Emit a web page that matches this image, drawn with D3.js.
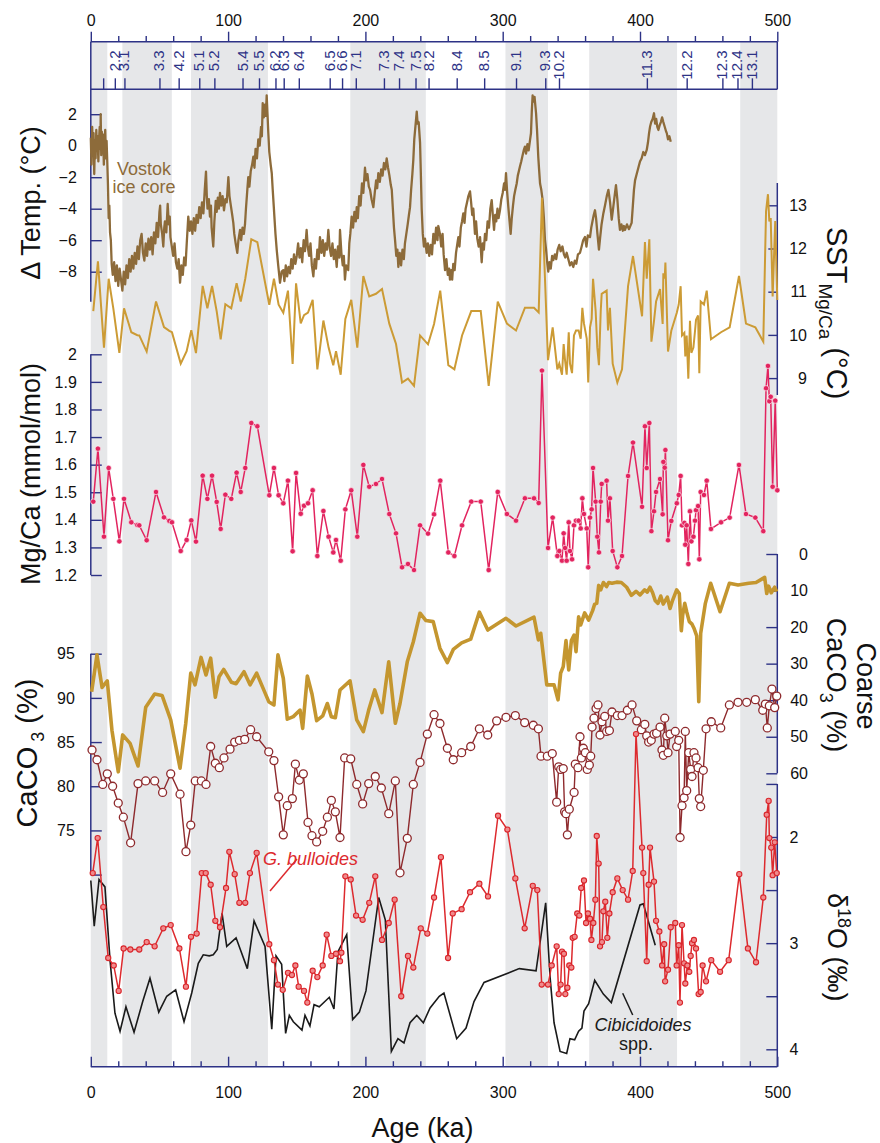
<!DOCTYPE html>
<html>
<head>
<meta charset="utf-8">
<script src="https://cdn.jsdelivr.net/npm/d3@7"></script>
<style>
  body { margin: 0; background: #fff; }
  svg { display: block; }
  text { font-family: "Liberation Sans", Arial, Helvetica, sans-serif; }
</style>
</head>
<body>
<svg id="chart" width="880" height="1143"></svg>
<script>
// ---------------- data ----------------
const ageLabels = [0, 100, 200, 300, 400, 500];
const ageMinor = [20, 40, 60, 80, 120, 140, 160, 180, 220, 240, 260, 280, 320, 340, 360, 380, 420, 440, 460, 480];

// glacial stages (ka)
const glacialStages = [[0, 12], [23, 59], [73, 129], [189, 244], [302, 333], [363, 427], [473, 500]];

// marine isotope substages
const misAges = [9, 17.5, 24.5, 50, 64, 79, 90, 110.5, 122.5, 134.5, 140.5, 151.5, 174, 183, 193, 213.5, 224.5, 236.5, 246, 266.5, 286.5, 309.7, 331, 341, 405, 434, 460, 471, 481.5];
const misLabels = ["", "2.2", "3.1", "3.3", "4.2", "5.1", "5.2", "5.4", "5.5", "6.2", "6.3", "6.4", "6.5", "6.6", "7.1", "7.3", "7.4", "7.5", "8.2", "8.4", "8.5", "9.1", "9.3", "10.2", "11.3", "12.2", "12.3", "12.4", "13.1"];

// Vostok ice core temperature anomaly [age ka, deg C]
const vostok = [[0,0.5],[0.5,-1.2],[1,1.2],[1.5,-0.5],[2,0.8],[2.5,-1.8],[3,0.3],[3.5,-0.8],[4,1.0],[4.5,-0.3],[5,0.6],[5.5,-1.0],[6,0.4],[6.5,1.2],[7,-0.2],[7.2,2.0],[7.6,-0.6],[8,0.9],[8.5,-0.4],[9,0.7],[9.5,-1.2],[10,0.2],[10.5,1.0],[11,-0.8],[11.5,0.3],[12,-1.0],
[12.5,-2.5],[13,-4.6],[13.5,-3.8],[14,-5.5],[14.6,-6.0],[15.2,-7.5],[16,-8.2],[17,-7.4],[18,-8.6],[19,-7.6],[20,-8.9],[21,-7.8],[22,-8.5],[23,-9.2],[24,-8.0],[25,-8.8],[26,-7.6],[27,-8.4],[28,-7.2],[29,-8.0],[30,-7.0],[31,-7.8],[32,-6.8],[33,-7.5],[34,-6.4],[35,-7.2],[36,-6.0],[37,-5.6],[38,-6.8],[39,-7.3],[40,-6.2],[41,-7.0],[42,-5.9],[43,-6.6],[44,-5.8],[45,-6.9],[46,-5.5],[47,-6.2],[48,-4.9],[49,-5.8],[50,-4.2],[50.5,-3.8],[51,-5.0],[52,-5.6],[52.8,-6.4],[53.5,-5.2],[54,-4.8],[55,-5.5],[56,-3.7],[56.8,-5.0],[57.5,-4.5],[58,-5.8],[59,-6.4],[60,-7.0],[61,-6.2],[62,-7.4],[63,-7.8],[64,-7.2],[65,-8.7],[66,-7.6],[67,-8.2],[68,-7.1],[69,-7.6],[70,-6.0],[71,-4.5],[72,-5.4],[73,-4.8],[74,-5.6],[75,-4.6],[76,-5.4],[77,-4.4],[78,-4.9],[79,-3.9],[80,-4.6],[81,-3.6],[82,-4.3],[83,-2.8],[83.9,-1.65],[84.5,-3.2],[85,-4.0],[86,-3.4],[86.8,-4.5],[87.5,-3.8],[88,-5.2],[89.2,-6.4],[90,-4.8],[91,-3.5],[91.7,-4.2],[92.5,-3.3],[93.3,-4.0],[94.1,-3.0],[95,-3.8],[96,-3.2],[97,-4.1],[98,-3.4],[99,-3.6],[100.2,-2.0],[101,-3.2],[102,-3.8],[103,-4.4],[103.8,-4.9],[104.5,-5.6],[105.5,-6.2],[106.7,-6.8],[107.5,-6.0],[108.7,-5.35],[109.5,-6.0],[110.5,-5.2],[111.5,-5.6],[112.3,-5.0],[113,-4.0],[114,-2.8],[114.7,-2.0],[115.5,-2.6],[116.5,-1.6],[117.5,-1.2],[118.4,-0.7],[119.2,-1.4],[120,-0.2],[121,-0.8],[122,0.4],[123,0.0],[124,1.2],[124.6,0.6],[125.2,2.7],[126,1.8],[126.8,2.6],[127.5,1.9],[128.1,3.2],[128.7,2.0],[129.3,0.8],[130,-0.4],[131,-1.2],[131.8,-1.75],[132.5,-2.8],[133.5,-4.2],[134.5,-5.6],[135.4,-6.6],[136.5,-7.6],[137.8,-8.7],[139,-8.0],[140.2,-7.9],[141,-8.6],[142,-7.6],[143,-8.3],[144,-7.7],[145.1,-8.1],[146,-7.2],[147,-7.8],[148,-6.9],[149,-7.5],[150,-7.0],[151,-6.2],[152,-7.1],[153,-6.5],[154,-7.4],[155,-6.0],[156,-6.7],[157.2,-5.35],[158,-6.4],[159,-7.0],[160,-6.2],[161,-7.6],[162.1,-8.3],[163,-7.2],[164,-7.8],[165,-6.6],[166,-7.2],[166.9,-5.8],[168,-6.8],[169,-6.0],[170,-7.0],[171,-6.2],[172,-6.6],[173,-5.35],[174,-6.5],[175,-7.0],[176,-6.2],[177,-7.2],[178,-6.6],[179.1,-7.7],[180,-6.4],[181,-7.1],[181.5,-5.35],[182.5,-6.8],[183.5,-7.6],[184.3,-7.0],[185.1,-8.5],[186,-7.6],[187.5,-7.9],[188.3,-6.2],[189,-5.6],[190,-4.5],[191,-5.2],[192,-4.2],[193,-4.8],[193.7,-3.9],[194.5,-4.6],[195.5,-3.2],[196.5,-3.8],[197.5,-2.4],[198.5,-3.0],[199.7,-1.4],[200.5,-2.2],[201.5,-1.8],[202.5,-2.6],[203.4,-2.8],[204.5,-3.4],[205.8,-3.9],[206.8,-3.0],[207.8,-2.2],[208.6,-2.7],[209.4,-1.75],[210.5,-2.3],[211.5,-1.5],[212.5,-1.9],[213.5,-1.1],[214.5,-1.5],[215.5,-0.8],[216.5,-1.4],[217.5,-1.9],[218.5,-2.5],[219.2,-2.8],[220,-4.0],[220.8,-5.2],[221.6,-6.0],[222.5,-7.0],[223.3,-6.6],[224,-7.7],[225,-6.8],[226,-7.6],[227,-6.6],[228,-7.2],[228.8,-6.2],[229.8,-5.6],[230.8,-5.0],[231.7,-4.4],[232.5,-3.9],[233.3,-2.8],[234.2,-1.8],[234.9,-0.9],[235.6,0.4],[236.4,1.2],[237.4,2.16],[238,1.4],[238.8,1.5],[239.8,0.2],[240.3,-1.5],[241,-4.0],[241.8,-5.6],[242.6,-6.4],[243.4,-5.9],[244.6,-6.8],[245.5,-6.2],[246.5,-7.0],[247.5,-6.3],[248.5,-6.9],[249.5,-5.6],[250.5,-6.2],[251.5,-5.2],[252.5,-6.0],[253.1,-5.1],[254.3,-5.6],[255.2,-6.4],[256.2,-5.6],[257,-6.9],[258,-7.9],[259,-7.2],[260,-8.2],[261,-7.8],[261.6,-8.5],[262.5,-7.9],[263.2,-8.5],[264,-7.5],[265,-7.9],[266,-6.8],[267,-6.2],[267.7,-5.8],[268.5,-6.4],[269.5,-5.2],[270.4,-4.8],[271.3,-4.3],[272.2,-4.9],[273,-4.0],[274,-3.6],[275,-3.2],[276.2,-2.9],[277,-3.6],[277.8,-4.4],[278.6,-4.0],[279.8,-5.6],[280.6,-4.8],[281.5,-5.9],[282.5,-6.4],[283.5,-5.8],[284.7,-7.4],[285.5,-6.2],[286.3,-6.6],[287.1,-5.6],[288,-6.0],[289,-4.8],[290,-5.2],[291,-4.0],[292,-3.45],[292.8,-4.4],[293.7,-5.35],[294.5,-4.4],[295.3,-4.8],[296.2,-4.0],[297,-4.6],[298,-4.1],[299,-3.4],[300,-3.0],[301,-2.4],[301.7,-2.8],[302.4,-1.75],[303.2,-2.9],[304.1,-3.9],[305,-4.8],[305.8,-5.6],[306.6,-4.6],[307.5,-3.8],[308.3,-3.2],[309.2,-2.8],[310.2,-2.4],[311,-1.9],[311.8,-1.6],[312.6,-1.3],[313.5,-1.0],[314.5,-0.6],[315.3,-0.3],[316.2,-0.06],[317,-0.5],[318,0.1],[318.9,-0.3],[319.9,0.36],[320.6,0.8],[321.2,2.2],[321.8,3.2],[322.5,2.8],[323.2,3.1],[324.3,2.06],[325,1.0],[325.9,-0.7],[326.5,-1.5],[327.2,-2.4],[328.1,-2.8],[329.1,-3.45],[330,-4.6],[330.8,-6.0],[331.6,-6.6],[332.4,-7.4],[333.2,-8.0],[334,-7.4],[335,-7.8],[336,-7.0],[336.9,-7.26],[338,-6.9],[339,-7.2],[340,-6.6],[341.2,-6.3],[342.2,-6.7],[343.5,-6.4],[344.6,-6.9],[345.6,-7.1],[346.6,-6.8],[347.8,-7.2],[349,-7.6],[350.2,-7.4],[351.4,-7.7],[352.5,-7.3],[353.6,-7.5],[354.8,-6.9],[356.3,-6.8],[357.5,-6.4],[358.6,-6.0],[359.9,-5.8],[361,-6.4],[362,-5.7],[363.6,-5.8],[364.5,-5.2],[365.4,-4.8],[366.3,-4.4],[367.2,-4.1],[368,-4.6],[369,-5.6],[370.1,-6.6],[371,-5.8],[372,-5.0],[373.3,-4.3],[374.5,-3.8],[375.8,-3.2],[377,-2.8],[378.2,-3.6],[379.4,-4.7],[380.4,-4.0],[381.5,-3.2],[382.5,-2.5],[383.5,-3.4],[384.5,-4.6],[385.4,-5.35],[386.5,-5.0],[387.5,-5.4],[388.3,-5.1],[389.1,-5.35],[390.5,-5.0],[392,-5.3],[393.9,-4.9],[394.8,-3.8],[395.6,-2.8],[396.4,-2.2],[397.6,-1.8],[398.8,-1.4],[400,-1.0],[401.2,-0.8],[402.4,-0.4],[403.6,-0.6],[404.9,-0.27],[405.8,0.2],[406.6,0.8],[407.3,1.2],[408.2,1.5],[409.2,1.7],[410.2,2.06],[411,1.4],[411.8,1.7],[412.6,1.2],[413.4,1.0],[414.3,1.3],[415.2,1.5],[416.1,1.8],[417,1.5],[418,1.2],[419,0.9],[419.5,0.8],[420.4,0.4],[421.4,0.6],[422.4,0.25]];

// G. bulloides Mg/Ca [age ka, mmol/mol]
const mgca = [[1.8,1.466],[5.2,1.658],[9.6,1.339],[13.0,1.588],[16.4,1.476],[20.8,1.322],[24.2,1.476],[29.5,1.391],[33.9,1.381],[35.3,1.380],[40.7,1.326],[47.5,1.501],[53.3,1.409],[57.2,1.396],[59.1,1.391],[65.5,1.287],[69.8,1.327],[73.2,1.398],[76.6,1.321],[81.5,1.560],[84.9,1.476],[88.3,1.560],[91.7,1.465],[94.6,1.367],[98.0,1.491],[102.3,1.476],[106.2,1.571],[109.2,1.501],[112.5,1.588],[116.9,1.751],[121.3,1.739],[130.0,1.489],[133.4,1.588],[136.8,1.489],[140.2,1.460],[143.6,1.542],[147.0,1.286],[149.5,1.570],[152.9,1.422],[155.3,1.451],[158.2,1.460],[161.6,1.507],[165.0,1.269],[169.4,1.432],[173.2,1.339],[176.6,1.282],[178.6,1.327],[182.0,1.252],[185.4,1.438],[189.7,1.507],[194.1,1.339],[198.5,1.599],[202.8,1.520],[207.7,1.530],[212.1,1.548],[217.4,1.421],[222.3,1.351],[226.7,1.228],[231.0,1.240],[235.4,1.218],[239.8,1.380],[245.6,1.350],[250.0,1.420],[254.5,1.542],[260.4,1.282],[264.8,1.269],[270.4,1.380],[277.1,1.466],[284.0,1.466],[289.8,1.218],[296.4,1.501],[303.1,1.421],[309.7,1.397],[316.2,1.478],[322.8,1.478],[326.2,1.461],[328.6,1.941],[333.0,1.298],[336.4,1.408],[339.8,1.269],[341.2,1.287],[343.2,1.252],[344.4,1.351],[345.4,1.298],[346.6,1.252],[348.1,1.391],[349.0,1.287],[350.5,1.257],[351.9,1.380],[353.4,1.397],[355.3,1.397],[356.8,1.369],[358.0,1.478],[359.2,1.421],[361.2,1.369],[362.3,1.228],[363.6,1.408],[364.8,1.438],[365.8,1.588],[367.7,1.466],[368.9,1.339],[370.1,1.282],[371.4,1.466],[372.1,1.530],[375.7,1.542],[376.7,1.397],[378.1,1.478],[380.1,1.287],[383.5,1.228],[386.9,1.269],[391.3,1.559],[394.9,1.680],[401.5,1.447],[403.6,1.739],[404.9,1.588],[406.8,1.751],[408.3,1.359],[410.2,1.431],[411.7,1.501],[414.6,1.548],[416.5,1.420],[417.0,1.610],[418.0,1.589],[418.5,1.653],[420.4,1.326],[422.8,1.396],[426.8,1.460],[428.2,1.490],[429.6,1.559],[430.6,1.380],[432.3,1.389],[433.0,1.310],[434.0,1.380],[435.2,1.240],[436.4,1.431],[437.4,1.322],[438.9,1.339],[440.1,1.397],[440.8,1.435],[442.3,1.450],[443.2,1.257],[444.2,1.501],[446.6,1.490],[448.6,1.542],[451.7,1.367],[459.0,1.391],[465.3,1.408],[472.1,1.599],[477.2,1.421],[484.0,1.408],[489.8,1.359],[491.8,1.877],[493.2,1.958],[494.2,1.830],[495.2,1.846],[496.6,1.520],[498.5,1.832],[500.0,1.507]];

// Mg/Ca-temperature calibration for G. bulloides: Mg/Ca = 0.474 exp(0.107 T)
const calibA = 0.474, calibB = 0.107;

// coarse-fraction CaCO3 (%)
const coarse = [[0.6,37.7],[4.5,27.6],[8.2,36.5],[12.0,34.7],[15.4,48.2],[20.0,59.6],[23.2,49.5],[28.6,51.8],[34.4,58.0],[40.0,41.9],[46.5,38.3],[51.9,38.7],[58.2,45.4],[65.0,58.6],[69.1,46.5],[72.8,32.6],[75.9,35.8],[80.3,28.3],[83.9,33.1],[87.3,28.5],[90.7,39.2],[93.4,33.6],[96.8,31.6],[102.4,35.1],[105.8,35.5],[111.6,32.2],[116.0,35.8],[120.8,32.6],[129.6,40.4],[133.4,41.3],[136.3,27.6],[140.2,34.0],[143.1,45.2],[147.5,44.5],[152.4,42.7],[154.3,47.7],[157.7,33.4],[161.1,38.3],[164.5,45.6],[168.9,44.3],[172.3,40.9],[175.2,44.5],[178.1,44.8],[181.5,37.2],[188.8,34.7],[193.7,45.4],[198.5,48.6],[202.4,42.7],[206.8,37.2],[212.1,43.4],[217.0,29.5],[221.8,46.3],[225.2,40.9],[230.5,29.5],[234.9,24.0],[239.8,16.2],[244.1,18.2],[249.4,18.5],[254.3,25.8],[259.7,29.7],[264.0,26.1],[270.1,24.3],[276.7,23.3],[283.0,15.9],[289.1,20.8],[302.4,17.6],[309.7,19.7],[322.8,17.3],[326.0,23.5],[327.7,21.7],[332.1,35.8],[337.4,35.8],[340.3,39.9],[342.2,32.6],[344.1,30.8],[346.1,23.7],[348.1,31.7],[350.0,23.7],[352.0,22.2],[353.4,26.7],[355.3,17.2],[356.8,19.4],[359.7,16.1],[362.6,18.1],[365.5,15.5],[367.0,13.7],[368.5,13.5],[369.9,8.6],[371.4,9.8],[373.3,7.8],[375.7,8.9],[377.2,7.8],[379.6,8.0],[383.0,7.7],[386.4,7.8],[390.3,9.1],[393.7,11.3],[397.1,10.2],[400.0,11.2],[403.4,9.8],[405.3,10.4],[407.3,9.1],[409.2,10.6],[411.1,12.8],[413.1,13.5],[415.1,11.5],[416.9,13.7],[419.9,11.8],[421.9,14.9],[423.8,12.6],[426.7,9.8],[428.6,10.8],[430.1,21.0],[431.1,16.7],[432.6,13.5],[434.0,15.8],[435.9,18.5],[437.9,19.2],[439.3,20.3],[441.3,22.4],[442.8,40.4],[444.2,21.7],[447.6,13.5],[451.5,8.0],[458.3,15.8],[465.1,8.0],[471.4,8.5],[479.2,8.0],[484.5,7.8],[490.8,6.4],[492.3,10.8],[493.7,8.8],[495.6,10.6],[498.1,9.1],[499.5,10.3]];

// bulk CaCO3 (%)
const caco3 = [[0.9,84.1],[4.5,83.0],[8.7,80.2],[12.0,81.4],[15.9,80.0],[20.0,78.1],[23.7,76.5],[29.0,73.6],[34.4,80.3],[40.0,80.6],[46.5,80.6],[52.3,79.3],[58.2,81.4],[65.0,79.1],[69.3,72.6],[72.8,75.6],[76.1,80.6],[80.5,80.6],[83.9,80.2],[87.3,84.5],[90.7,82.6],[93.6,82.1],[97.0,83.2],[101.4,84.2],[104.8,85.0],[108.2,85.2],[112.1,85.3],[116.4,86.4],[120.8,85.6],[129.6,83.9],[133.4,82.9],[136.8,78.8],[140.2,74.5],[143.1,77.8],[146.8,78.6],[149.0,82.5],[151.9,80.7],[154.8,81.4],[158.2,75.9],[161.1,74.4],[164.5,73.7],[168.9,74.9],[172.3,76.5],[175.2,78.4],[178.1,77.1],[181.5,74.2],[184.9,83.2],[189.3,83.1],[193.7,80.2],[198.0,78.0],[202.4,80.3],[207.2,81.1],[211.6,79.8],[217.0,76.9],[221.8,80.6],[225.2,70.2],[230.5,74.1],[234.9,80.2],[239.8,82.7],[245.1,85.9],[250.0,88.1],[254.3,87.1],[259.7,84.3],[264.0,83.0],[270.1,83.8],[276.7,84.5],[283.0,86.5],[289.1,85.8],[295.6,87.4],[302.4,87.8],[309.2,88.0],[316.0,87.2],[322.3,86.9],[326.0,86.5],[327.9,83.4],[332.5,83.4],[336.1,83.7],[339.3,78.2],[340.8,82.2],[342.2,81.9],[344.1,82.0],[345.1,77.1],[346.1,76.9],[347.1,74.5],[348.5,77.4],[352.0,79.3],[352.9,82.5],[354.8,82.1],[356.3,85.6],[357.3,83.2],[358.7,84.3],[360.2,83.8],[361.6,81.9],[363.1,82.4],[364.1,83.4],[365.1,86.7],[366.5,87.7],[368.0,88.8],[369.4,89.2],[370.9,85.8],[372.3,87.3],[374.3,87.9],[375.7,86.2],[377.7,86.3],[379.6,88.4],[383.5,88.0],[386.9,88.0],[390.8,88.6],[394.2,89.2],[397.6,87.4],[401.0,86.4],[403.5,87.0],[404.9,85.7],[406.3,85.0],[408.2,85.2],[410.2,85.9],[412.1,86.0],[414.6,86.7],[416.0,84.1],[417.0,83.5],[418.0,87.7],[419.5,85.7],[420.4,83.8],[421.9,85.9],[425.7,86.2],[426.7,84.5],[428.2,85.2],[429.2,74.2],[430.6,77.8],[432.1,78.7],[433.0,86.2],[434.0,79.5],[435.5,83.8],[436.9,81.9],[437.9,81.1],[439.3,83.8],[440.8,83.2],[442.3,82.1],[443.2,78.6],[444.2,77.7],[446.1,81.8],[448.1,86.5],[451.9,87.3],[458.8,86.6],[465.1,89.2],[471.4,89.5],[477.7,89.5],[484.0,89.8],[489.4,88.6],[491.3,89.3],[492.7,86.6],[494.2,89.1],[496.1,91.0],[498.1,88.9],[499.6,90.2]];

// planktonic d18O, G. bulloides (permil)
const bulloides = [[1.4,2.34],[5.0,2.01],[9.1,2.66],[12.7,3.14],[16.7,3.21],[20.3,3.45],[23.9,3.05],[28.8,3.06],[35.3,3.06],[40.7,2.99],[46.5,3.03],[52.8,2.86],[58.2,2.83],[64.5,3.05],[69.3,3.41],[73.0,2.94],[77.1,2.91],[80.8,2.34],[83.7,2.34],[87.3,2.45],[90.7,2.79],[94.1,2.85],[98.5,2.48],[100.9,2.14],[104.8,2.35],[108.2,2.62],[112.5,2.62],[115.9,2.34],[120.8,2.15],[130.0,3.01],[133.4,3.16],[136.3,3.39],[139.8,3.44],[143.6,3.28],[146.5,3.30],[149.0,3.21],[151.4,3.41],[155.3,3.45],[157.7,3.56],[161.6,3.26],[165.0,3.32],[168.9,3.21],[171.8,2.92],[175.2,3.12],[178.6,3.10],[181.5,3.17],[182.5,3.09],[185.4,2.37],[189.3,2.40],[193.2,2.74],[198.0,2.78],[202.8,2.62],[207.2,2.37],[212.1,2.97],[217.0,2.81],[221.3,2.59],[226.1,3.50],[231.0,3.12],[234.9,3.23],[240.3,2.86],[245.1,2.91],[250.0,2.57],[255.0,2.19],[260.2,3.14],[263.6,2.72],[270.1,2.68],[276.2,2.52],[283.0,2.44],[289.3,2.56],[296.6,1.80],[303.4,1.93],[309.2,2.39],[316.0,2.86],[321.9,2.46],[325.2,2.50],[328.4,3.39],[333.0,3.39],[335.7,3.21],[339.3,3.03],[340.8,3.48],[342.2,3.39],[343.2,3.08],[344.6,3.10],[345.6,3.48],[347.1,3.42],[348.5,3.21],[350.0,3.23],[351.0,2.95],[352.4,2.94],[354.3,2.72],[355.8,2.74],[357.2,2.48],[359.2,2.41],[360.7,2.81],[362.1,2.72],[363.6,2.77],[364.6,2.97],[366.0,2.81],[367.5,2.59],[368.5,1.99],[369.9,2.25],[370.9,3.03],[372.3,2.99],[373.3,2.70],[374.7,2.61],[376.2,2.95],[377.7,2.72],[380.1,2.52],[383.5,2.39],[387.4,2.50],[391.3,2.59],[394.7,2.32],[397.1,1.03],[401.5,2.10],[402.4,2.34],[404.9,3.17],[406.3,2.45],[407.3,2.10],[410.2,2.42],[411.7,2.79],[414.1,2.89],[416.1,3.21],[417.6,3.01],[418.3,3.36],[420.4,3.25],[422.4,2.85],[425.7,2.81],[426.7,3.21],[428.2,3.02],[429.1,3.56],[430.6,2.83],[432.1,3.19],[433.0,3.38],[434.5,3.21],[435.9,3.27],[436.9,3.12],[437.9,3.00],[439.3,2.97],[440.8,3.05],[442.7,3.48],[444.2,3.46],[445.6,3.21],[448.1,3.36],[451.9,3.16],[458.3,3.27],[464.6,3.16],[472.3,2.35],[478.6,3.05],[484.5,3.18],[489.8,2.57],[492.3,1.79],[493.7,1.66],[494.2,2.01],[495.6,2.10],[496.6,2.36],[498.1,2.05],[499.6,2.34]];

// benthic d18O, Cibicidoides spp. (permil)
const cibicidoides = [[0,2.41],[2.5,2.84],[6.0,2.40],[10.3,2.47],[14.0,3.16],[17.6,3.66],[21.3,3.83],[25.6,3.60],[31.5,3.84],[37.8,3.55],[43.1,3.33],[49.5,3.65],[55.3,3.50],[61.8,3.44],[67.9,3.74],[73.5,3.47],[78.3,3.19],[81.9,3.11],[86.3,3.12],[89.2,3.11],[92.1,3.06],[95.6,2.72],[99.0,3.03],[105.8,2.95],[114.0,3.24],[118.9,2.79],[126.9,3.03],[131.8,3.81],[134.9,3.12],[139.0,3.20],[141.9,3.85],[144.6,3.68],[147.5,3.74],[153.8,3.82],[156.0,3.68],[159.6,3.78],[162.6,3.58],[166.4,3.60],[173.7,3.51],[177.1,3.62],[180.0,3.08],[186.4,2.92],[190.7,3.72],[195.6,3.65],[200.4,3.45],[209.7,2.57],[214.5,2.78],[218.9,4.02],[223.7,3.90],[228.1,3.94],[232.5,3.75],[237.4,3.68],[242.2,3.75],[247.1,3.61],[253.8,3.50],[257.2,3.47],[266.5,3.90],[273.3,3.80],[279.1,3.55],[286.4,3.37],[312.1,3.24],[324.3,3.26],[331.3,2.62],[334.5,3.32],[337.4,3.75],[341.8,4.02],[346.6,4.04],[349.0,3.90],[352.4,3.91],[355.3,3.83],[357.7,3.80],[359.2,3.64],[362.6,3.57],[367.0,3.35],[373.3,3.48],[379.1,3.56],[400.0,2.64],[402.4,2.63],[411.1,3.02]];

// axis tick values
const tempTicks = [-8, -6, -4, -2, 0, 2];
const sstTicks = [9, 10, 11, 12, 13];
const mgcaTicks = [1.2, 1.3, 1.4, 1.5, 1.6, 1.7, 1.8, 1.9, 2.0];
const caco3Ticks = [70, 75, 80, 85, 90, 95];
const coarseTicks = [0, 10, 20, 30, 40, 50, 60];
const d18Ticks = [1.5, 2, 2.5, 3, 3.5, 4];

// ---------------- drawing ----------------
const AXIS = "#2d3286";
const FONT = '"Liberation Sans", Arial, Helvetica, sans-serif';
const svg = d3.select("#chart");

const x = d3.scaleLinear().domain([0, 500]).range([90.8, 777.3]);
const yTemp = d3.scaleLinear().domain([-8, 2]).range([271.7, 114.2]);
const ySST = d3.scaleLinear().domain([9, 13]).range([378.1, 205.3]);
const yMg = d3.scaleLinear().domain([1.2, 2.0]).range([575, 354.3]);
const yCa = d3.scaleLinear().domain([70, 95]).range([874.6, 653.7]);
const yCoarse = d3.scaleLinear().domain([0, 60]).range([554, 773.3]);
const yD18 = d3.scaleLinear().domain([2, 4]).range([837, 1049.3]);

const X0 = x(0), X1 = x(500);
const TOP_LINE = 41.7, MIS_LINE = 89.3, BOTTOM = 1066.7;

// glacial shading
svg.append("g").selectAll("rect").data(glacialStages).join("rect")
  .attr("x", d => x(d[0])).attr("width", d => x(d[1]) - x(d[0]))
  .attr("y", TOP_LINE).attr("height", BOTTOM - TOP_LINE)
  .attr("fill", "#e6e7e9");

function styleAxis(g, fs) {
  g.attr("font-family", FONT).attr("font-size", fs || 16);
  g.select(".domain").remove();
  g.selectAll(".tick line").attr("stroke", AXIS).attr("stroke-width", 1.4);
  g.selectAll(".tick text").attr("fill", "#111");
}
function vline(xp, y0, y1) {
  svg.append("line").attr("x1", xp).attr("x2", xp).attr("y1", y0).attr("y2", y1)
    .attr("stroke", AXIS).attr("stroke-width", 1.5);
}
function hline(y, x0, x1) {
  svg.append("line").attr("x1", x0).attr("x2", x1).attr("y1", y).attr("y2", y)
    .attr("stroke", AXIS).attr("stroke-width", 1.5);
}

// top age axis and isotope-stage strip
svg.append("g").attr("transform", `translate(0,${TOP_LINE})`)
  .call(d3.axisTop(x).tickValues(ageLabels).tickSize(10).tickPadding(5.7).tickFormat(d3.format("d")))
  .call(g => styleAxis(g, 16));
svg.append("g").attr("transform", `translate(0,${TOP_LINE})`)
  .call(d3.axisTop(x).tickValues(ageMinor).tickSize(5.7).tickFormat(() => ""))
  .call(g => styleAxis(g));
svg.append("g").attr("transform", `translate(0,${MIS_LINE})`)
  .call(d3.axisTop(x).tickValues(misAges).tickSize(11).tickFormat(() => ""))
  .call(g => styleAxis(g));
svg.append("g").attr("font-family", FONT).selectAll("text").data(misAges).join("text")
  .attr("transform", d => `translate(${x(d) + 5},50.5) rotate(-90)`)
  .attr("text-anchor", "end")
  .attr("font-size", 15).attr("fill", AXIS)
  .text((d, i) => misLabels[i]);
hline(TOP_LINE, X0, X1);
hline(MIS_LINE, X0, X1);
vline(X1, TOP_LINE, MIS_LINE);

// bottom age axis
svg.append("g").attr("transform", `translate(0,${BOTTOM})`)
  .call(d3.axisBottom(x).tickValues(ageLabels).tickSize(-10).tickPadding(20).tickFormat(d3.format("d")))
  .call(g => styleAxis(g, 16));
svg.append("g").attr("transform", `translate(0,${BOTTOM})`)
  .call(d3.axisBottom(x).tickValues(ageMinor).tickSize(-5.5).tickFormat(() => ""))
  .call(g => styleAxis(g));
hline(BOTTOM, X0, X1);

// left axes
svg.append("g").attr("transform", `translate(${X0},0)`)
  .call(d3.axisLeft(yTemp).tickValues(tempTicks).tickSize(-11).tickPadding(14).tickFormat(d3.format("d")))
  .call(g => styleAxis(g));
vline(X0, TOP_LINE, 301.7);

svg.append("g").attr("transform", `translate(${X0},0)`)
  .call(d3.axisLeft(yMg).tickValues(mgcaTicks).tickSize(-11).tickPadding(14)
    .tickFormat(d => d === 2 ? "2" : d3.format(".1f")(d)))
  .call(g => styleAxis(g));
vline(X0, yMg(2.0), yMg(1.2));

svg.append("g").attr("transform", `translate(${X0},0)`)
  .call(d3.axisLeft(yCa).tickValues(caco3Ticks).tickSize(-11).tickPadding(16)
    .tickFormat(d => d === 70 ? "" : d))
  .call(g => styleAxis(g));
vline(X0, yCa(95), yCa(70));

// right axes
function rightLabels(g, endX) {
  g.selectAll(".tick text").attr("text-anchor", "end").attr("x", endX);
}
svg.append("g").attr("transform", `translate(${X1},0)`)
  .call(d3.axisRight(ySST).tickValues(sstTicks).tickSize(-9).tickPadding(10).tickFormat(d3.format("d")))
  .call(g => styleAxis(g)).call(g => rightLabels(g, 29.7));
vline(X1, 183, 395);

svg.append("g").attr("transform", `translate(${X1},0)`)
  .call(d3.axisRight(yCoarse).tickValues(coarseTicks).tickSize(-11).tickPadding(10).tickFormat(d3.format("d")))
  .call(g => styleAxis(g)).call(g => rightLabels(g, 30.7));
vline(X1, yCoarse(0), yCoarse(60));

svg.append("g").attr("transform", `translate(${X1},0)`)
  .call(d3.axisRight(yD18).tickValues(d18Ticks).tickSize(-11).tickPadding(10)
    .tickFormat(d => Number.isInteger(d) ? d : ""))
  .call(g => styleAxis(g)).call(g => rightLabels(g, 21));
vline(X1, yD18(1.5), BOTTOM);

// ---- data series ----
const lineOf = (ys) => d3.line().x(d => x(d[0])).y(d => ys(d[1]));

// Vostok
svg.append("path").datum(vostok)
  .attr("d", lineOf(yTemp)).attr("fill", "none")
  .attr("stroke", "#8d6b3a").attr("stroke-width", 2.3).attr("stroke-linejoin", "round");

// SST from Mg/Ca through the calibration
const sst = mgca.map(d => [d[0], Math.log(d[1] / calibA) / calibB]);
svg.append("path").datum(sst)
  .attr("d", lineOf(ySST)).attr("fill", "none")
  .attr("stroke", "#cc9b35").attr("stroke-width", 2);

// Mg/Ca
svg.append("path").datum(mgca)
  .attr("d", lineOf(yMg)).attr("fill", "none")
  .attr("stroke", "#e2245f").attr("stroke-width", 1.5);
svg.append("g").selectAll("circle").data(mgca).join("circle")
  .attr("cx", d => x(d[0])).attr("cy", d => yMg(d[1])).attr("r", 2.7)
  .attr("fill", "#e2245f").attr("stroke", "#fff").attr("stroke-width", 0.6);

// coarse CaCO3
svg.append("path").datum(coarse)
  .attr("d", lineOf(yCoarse)).attr("fill", "none")
  .attr("stroke", "#c4962f").attr("stroke-width", 3.6).attr("stroke-linejoin", "round");

// bulk CaCO3
svg.append("path").datum(caco3)
  .attr("d", lineOf(yCa)).attr("fill", "none")
  .attr("stroke", "#8e2a2d").attr("stroke-width", 1.4);
svg.append("g").selectAll("circle").data(caco3).join("circle")
  .attr("cx", d => x(d[0])).attr("cy", d => yCa(d[1])).attr("r", 4)
  .attr("fill", "#fff").attr("stroke", "#8e2a2d").attr("stroke-width", 1.3);

// benthic d18O
svg.append("path").datum(cibicidoides)
  .attr("d", lineOf(yD18)).attr("fill", "none")
  .attr("stroke", "#1a1a1a").attr("stroke-width", 1.6);

// planktonic d18O
svg.append("path").datum(bulloides)
  .attr("d", lineOf(yD18)).attr("fill", "none")
  .attr("stroke", "#dd2a2e").attr("stroke-width", 1.5);
svg.append("g").selectAll("circle").data(bulloides).join("circle")
  .attr("cx", d => x(d[0])).attr("cy", d => yD18(d[1])).attr("r", 2.6)
  .attr("fill", "#f08a8c").attr("stroke", "#d9252b").attr("stroke-width", 1.1);

// ---- annotations ----
const ann = svg.append("g").attr("font-family", FONT);
ann.append("text").attr("x", 144).attr("y", 175).attr("text-anchor", "middle")
  .attr("font-size", 18).attr("fill", "#8d6b3a").text("Vostok");
ann.append("text").attr("x", 144).attr("y", 193).attr("text-anchor", "middle")
  .attr("font-size", 18).attr("fill", "#8d6b3a").text("ice core");

ann.append("text").attr("x", 263).attr("y", 865).attr("font-size", 18)
  .attr("font-style", "italic").attr("fill", "#dd2a2e").text("G. bulloides");
ann.append("line").attr("x1", 297).attr("y1", 859).attr("x2", 270).attr("y2", 891)
  .attr("stroke", "#dd2a2e").attr("stroke-width", 1.5);

ann.append("text").attr("x", 643).attr("y", 1031).attr("text-anchor", "middle").attr("font-size", 18)
  .attr("font-style", "italic").attr("fill", "#1a1a1a").text("Cibicidoides");
ann.append("text").attr("x", 636).attr("y", 1050).attr("text-anchor", "middle").attr("font-size", 18)
  .attr("fill", "#1a1a1a").text("spp.");
ann.append("line").attr("x1", 622.7).attr("y1", 993.3).attr("x2", 632.7).attr("y2", 1015)
  .attr("stroke", "#1a1a1a").attr("stroke-width", 1.5);

// ---- axis titles ----
const TF = 27;
const titles = svg.append("g").attr("font-family", FONT).attr("fill", "#111");

titles.append("text").attr("transform", "translate(40,203) rotate(-90)")
  .attr("text-anchor", "middle").attr("font-size", TF).text("\u0394 Temp. (\u00B0C)");

titles.append("text").attr("transform", "translate(40,474) rotate(-90)")
  .attr("text-anchor", "middle").attr("font-size", TF).text("Mg/Ca (mmol/mol)");

const caT = titles.append("text").attr("transform", "translate(37,753) rotate(-90)")
  .attr("text-anchor", "middle").attr("font-size", 29);
caT.append("tspan").text("CaCO");
caT.append("tspan").attr("dy", 7).attr("font-size", 18).text(" 3");
caT.append("tspan").attr("dy", -7).text(" (%)");

titles.append("text").attr("x", 422.5).attr("y", 1137).attr("text-anchor", "middle")
  .attr("font-size", TF).text("Age (ka)");

const sstT = titles.append("text").attr("transform", "translate(827,227) rotate(90)")
  .attr("font-size", 29);
sstT.append("tspan").text("SST");
sstT.append("tspan").attr("dy", 8).attr("font-size", 19).text("Mg/Ca");
sstT.append("tspan").attr("dy", -8).text(" (\u00B0C)");

titles.append("text").attr("transform", "translate(857,686) rotate(90)")
  .attr("text-anchor", "middle").attr("font-size", TF).text("Coarse");
const coT = titles.append("text").attr("transform", "translate(827,685) rotate(90)")
  .attr("text-anchor", "middle").attr("font-size", TF);
coT.append("tspan").text("CaCO");
coT.append("tspan").attr("dy", 7).attr("font-size", 18).text("3");
coT.append("tspan").attr("dy", -7).text(" (%)");

const dT = titles.append("text").attr("transform", "translate(828,893) rotate(90)")
  .attr("font-size", TF);
dT.append("tspan").text("\u03B4");
dT.append("tspan").attr("dy", -10).attr("font-size", 18).text("18");
dT.append("tspan").attr("dy", 10).text("O (\u2030)");
</script>
</body>
</html>
